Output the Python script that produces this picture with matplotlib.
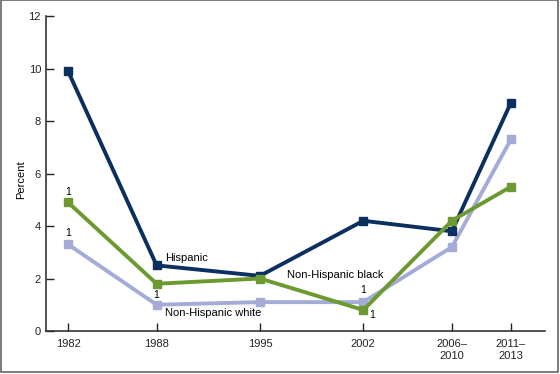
import matplotlib
matplotlib.use('Agg')
import matplotlib.pyplot as plt
from matplotlib.patches import Rectangle

plt.rcParams['font.family'] = ['Liberation Sans', 'DejaVu Sans']

# survey periods (plotted at their mid-year) and tick labels
years = [1982, 1988, 1995, 2002, 2008, 2012]
tick_labels = ['1982', '1988', '1995', '2002', '2006\u2013\n2010', '2011\u2013\n2013']

hispanic = [9.9, 2.5, 2.1, 4.2, 3.8, 8.7]
nh_black = [4.9, 1.8, 2.0, 0.8, 4.2, 5.5]
nh_white = [3.3, 1.0, 1.1, 1.1, 3.2, 7.3]

navy = '#0b2f5e'
green = '#6c9a30'
lavender = '#a3abd6'

fig = plt.figure(figsize=(5.6, 3.74), dpi=100)
ax = fig.add_axes([0.082, 0.115, 0.891, 0.842])

ax.plot(years, nh_white, color=lavender, lw=2.8, marker='s', ms=6, zorder=2)
ax.plot(years, hispanic, color=navy, lw=2.8, marker='s', ms=6, zorder=3)
ax.plot(years, nh_black, color=green, lw=2.8, marker='s', ms=6, zorder=4)

ax.set_xlim(1980.5, 2014.3)
ax.set_ylim(0, 12)
ax.set_yticks(range(0, 13, 2))
ax.set_xticks(years)
ax.set_xticklabels(tick_labels)
ax.tick_params(direction='in', length=6, width=1, labelsize=8, colors='#222222')
ax.tick_params(axis='x', pad=6)
ax.set_ylabel('Percent', fontsize=8)
ax.yaxis.set_label_coords(-0.04, 0.48)

for s in ['top', 'right']:
    ax.spines[s].set_visible(False)
for s in ['left', 'bottom']:
    ax.spines[s].set_color('#333333')
    ax.spines[s].set_linewidth(1.2)

# series labels
ax.text(1988.6, 2.8, 'Hispanic', fontsize=8, va='center')
ax.text(1996.8, 2.15, 'Non-Hispanic black', fontsize=8, va='center')
ax.text(1988.6, 0.68, 'Non-Hispanic white', fontsize=8, va='center')

# footnote markers
ax.text(1982, 5.3, '1', fontsize=7.5, ha='center', va='center')
ax.text(1982, 3.74, '1', fontsize=7.5, ha='center', va='center')
ax.text(1987.95, 1.37, '1', fontsize=7.5, ha='center', va='center')
ax.text(2002, 1.58, '1', fontsize=7.5, ha='center', va='center')
ax.text(2002.6, 0.6, '1', fontsize=7.5, ha='center', va='center')

# outer frame
fig.patches.append(Rectangle((0.002, 0.006), 0.994, 0.993, transform=fig.transFigure,
                             fill=False, edgecolor='#666666', lw=1.2))

fig.savefig('out.png', dpi=100)
